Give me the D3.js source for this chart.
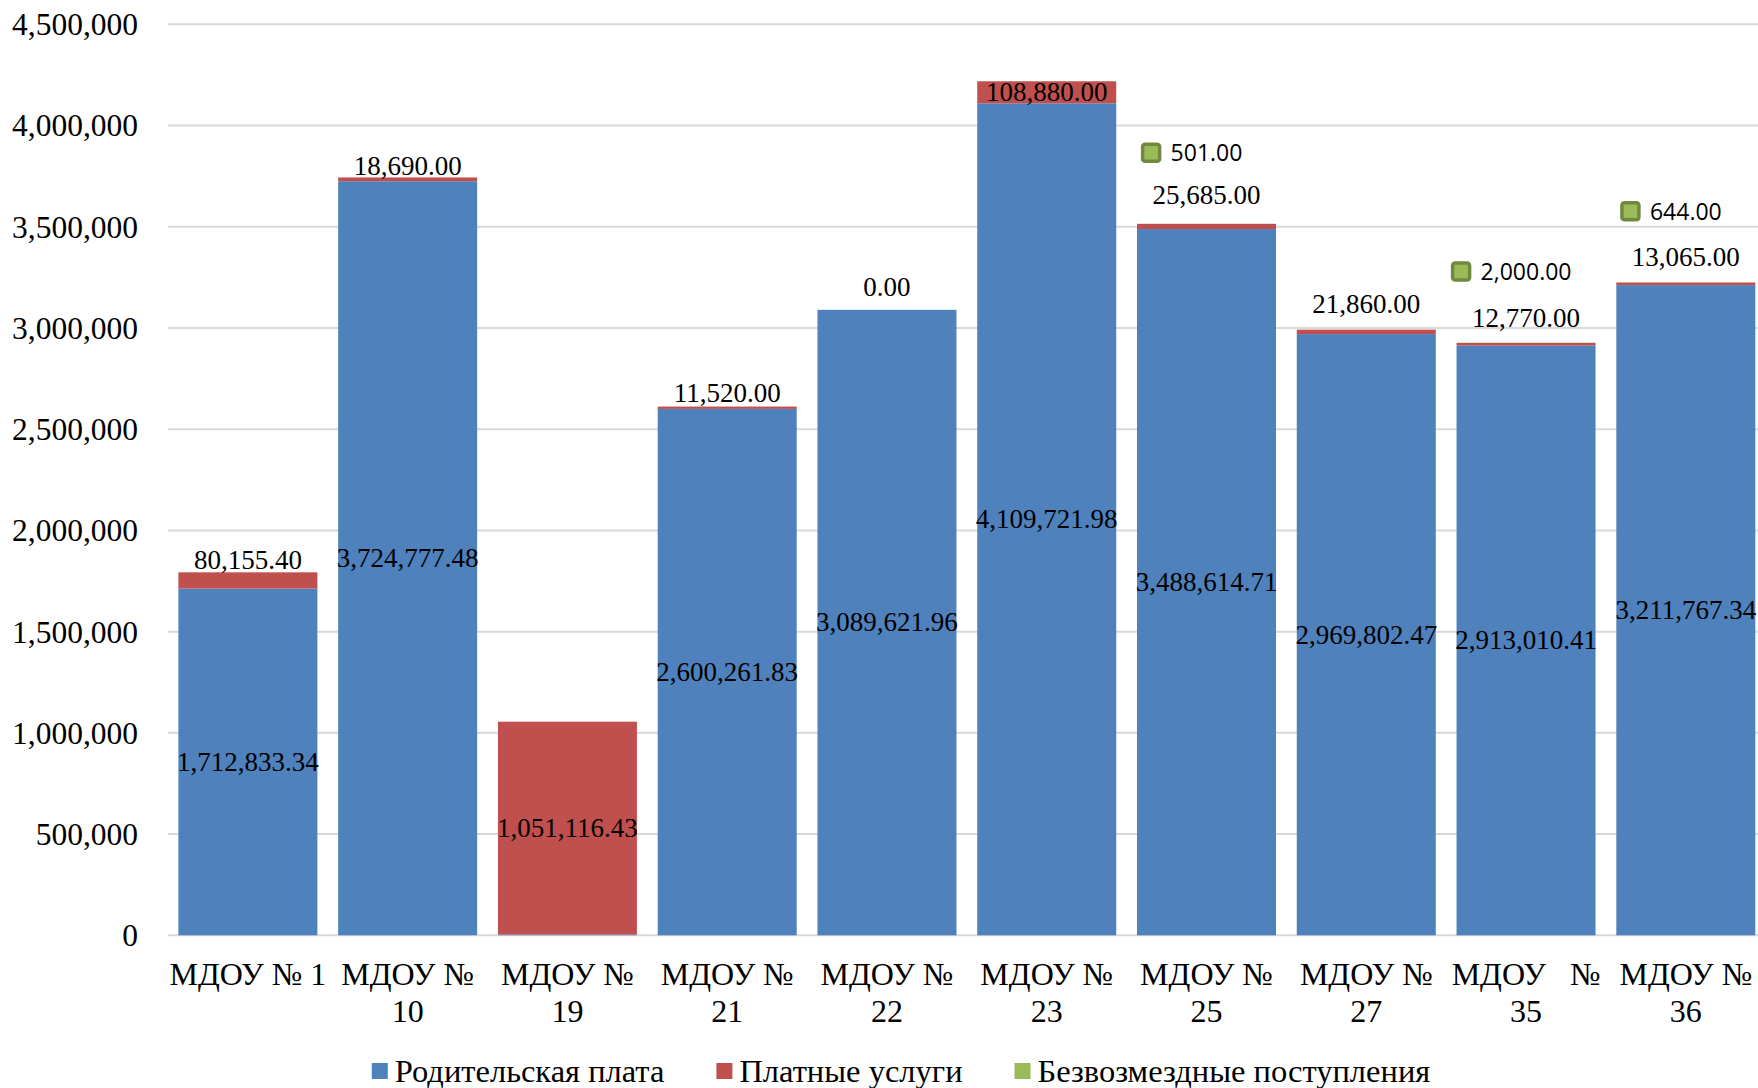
<!DOCTYPE html>
<meta charset="utf-8">
<style>
body { margin: 0; background: #fff; }
svg text { font-family: "Liberation Serif", "Times New Roman", serif; fill: #000; }
.grid line { stroke: #d9d9d9; stroke-width: 2px; }
.tick-y { font-size: 31.5px; }
.xlab { font-size: 32px; white-space: pre; }
.dlabel { font-size: 27px; }
.glabel { font-family: "Open Sans", sans-serif !important; font-size: 23px; }
.legend text { font-size: 32.5px; }
</style>
<div id="chart"></div>
<script src="https://d3js.org/d3.v7.min.js"></script>
<script>
// data
var categories = ["МДОУ № 1", "МДОУ № 10", "МДОУ № 19", "МДОУ № 21", "МДОУ № 22",
                  "МДОУ № 23", "МДОУ № 25", "МДОУ № 27", "МДОУ   № 35", "МДОУ № 36"];
var parentFee = [1712833.34, 3724777.48, 4000, 2600261.83, 3089621.96,
                 4109721.98, 3488614.71, 2969802.47, 2913010.41, 3211767.34];
var paidServices = [80155.40, 18690.00, 1051116.43, 11520.00, 0.00,
                    108880.00, 25685.00, 21860.00, 12770.00, 13065.00];
var donations = [0, 0, 0, 0, 0, 0, 501, 0, 2000, 644];
var yTicks = [0, 500000, 1000000, 1500000, 2000000, 2500000, 3000000, 3500000, 4000000, 4500000];
var seriesNames = ["Родительская плата", "Платные услуги", "Безвозмездные поступления"];
var colors = ["#4f81bd", "#c0504d", "#9bbb59"];

var W = 1758, H = 1088;
var fmt = d3.format(",.2f");

var svg = d3.select("#chart").append("svg")
    .attr("width", W)
    .attr("height", H);

var x = d3.scaleBand()
    .domain(categories)
    .range([168, 1765.7])
    .paddingInner(0.13)
    .paddingOuter(0.065);

var y = d3.scaleLinear()
    .domain([0, 4500000])
    .range([935.3, 24.3]);

// gridlines
svg.append("g").attr("class", "grid")
  .selectAll("line")
  .data(yTicks)
  .enter().append("line")
    .attr("x1", 168).attr("x2", W)
    .attr("y1", function(d) { return y(d); })
    .attr("y2", function(d) { return y(d); });

// y axis labels
var yAxis = svg.append("g")
    .attr("transform", "translate(168,0)")
    .call(d3.axisLeft(y).tickValues(yTicks).tickSize(0).tickPadding(30).tickFormat(d3.format(",")));
yAxis.select(".domain").remove();
yAxis.selectAll("text").attr("class", "tick-y").attr("font-size", null).attr("font-family", null).attr("dy", "0.33em");

// stacked data
var rows = categories.map(function(c, i) {
  return { cat: c, vals: [parentFee[i], paidServices[i], donations[i]] };
});
var stack = d3.stack().keys([0, 1, 2]).value(function(d, k) { return d.vals[k]; });
var layers = stack(rows);

svg.append("g").selectAll("g")
  .data(layers)
  .enter().append("g")
    .attr("fill", function(d, i) { return colors[i]; })
  .selectAll("rect")
  .data(function(d) { return d; })
  .enter().append("rect")
    .attr("x", function(d) { return x(d.data.cat); })
    .attr("width", x.bandwidth())
    .attr("y", function(d) { return y(d[1]); })
    .attr("height", function(d) { return Math.max(0, y(d[0]) - y(d[1])); });

var labels = svg.append("g");

// blue labels, centred in the segment
labels.selectAll(".lb")
  .data(layers[0].filter(function(d) { return d.data.vals[0] > 100000; }))
  .enter().append("text")
    .attr("class", "dlabel")
    .attr("text-anchor", "middle")
    .attr("x", function(d) { return x(d.data.cat) + x.bandwidth() / 2; })
    .attr("y", function(d) { return (y(d[0]) + y(d[1])) / 2; })
    .attr("dy", "0.33em")
    .text(function(d) { return fmt(d.data.vals[0]); });

// red labels: inside when segment is tall enough, otherwise above the bar
var aboveNudge = {"МДОУ № 1": 3, "МДОУ № 10": 2, "МДОУ № 21": 5, "МДОУ № 22": 14,
                  "МДОУ № 25": 20, "МДОУ № 27": 17, "МДОУ   № 35": 16, "МДОУ № 36": 16};
labels.selectAll(".lr")
  .data(layers[1])
  .enter().append("text")
    .attr("class", "dlabel")
    .attr("text-anchor", "middle")
    .attr("x", function(d) { return x(d.data.cat) + x.bandwidth() / 2; })
    .attr("y", function(d) {
      var h = y(d[0]) - y(d[1]);
      if (h >= 20) return (y(d[0]) + y(d[1])) / 2 + 27 * 0.33;
      return y(d[1]) - (aboveNudge[d.data.cat] || 4);
    })
    .text(function(d) { return fmt(d.data.vals[1]); });

// green labels with legend key
var g3 = labels.selectAll(".lg")
  .data(layers[2].filter(function(d) { return d.data.vals[2] > 0; }))
  .enter().append("g")
    .attr("transform", function(d) {
      return "translate(" + (x(d.data.cat) + x.bandwidth() / 2) + "," + (y(d[1]) - 71) + ")";
    });
g3.append("text")
    .attr("class", "glabel")
    .attr("text-anchor", "middle")
    .attr("dy", "0.36em")
    .text(function(d) { return fmt(d.data.vals[2]); });
g3.each(function() {
  var g = d3.select(this);
  var w = g.select("text").node().getComputedTextLength();
  g.insert("rect", "text")
    .attr("x", -w / 2 - 28).attr("y", -8.5)
    .attr("width", 17).attr("height", 17)
    .attr("rx", 2.5)
    .attr("fill", colors[2])
    .attr("stroke", "#71893f")
    .attr("stroke-width", 3.5);
});

// x labels, wrapped on the last space when too wide
svg.append("g").selectAll("text")
  .data(categories)
  .enter().append("text")
    .attr("class", "xlab")
    .attr("text-anchor", "middle")
    .attr("x", function(d) { return x(d) + x.bandwidth() / 2; })
    .attr("y", 985)
    .each(function(d) {
      var t = d3.select(this);
      t.text(d);
      if (this.getComputedTextLength() > x.step()) {
        var k = d.lastIndexOf(" ");
        t.text(null);
        t.append("tspan").attr("x", x(d) + x.bandwidth() / 2).text(d.slice(0, k));
        t.append("tspan").attr("x", x(d) + x.bandwidth() / 2).attr("dy", 37).text(d.slice(k + 1));
      }
    });

// legend
var legend = svg.append("g").attr("class", "legend");
var lx = 0;
seriesNames.forEach(function(name, i) {
  var item = legend.append("g").attr("transform", "translate(" + lx + ",0)");
  item.append("rect")
    .attr("x", 0).attr("y", -8)
    .attr("width", 16).attr("height", 16)
    .attr("fill", colors[i]);
  var t = item.append("text")
    .attr("x", 23).attr("dy", "0.33em")
    .text(name);
  lx += 23 + t.node().getComputedTextLength() + 52;
});
lx -= 52;
legend.attr("transform", "translate(" + (901 - lx / 2) + ",1071)");
</script>
